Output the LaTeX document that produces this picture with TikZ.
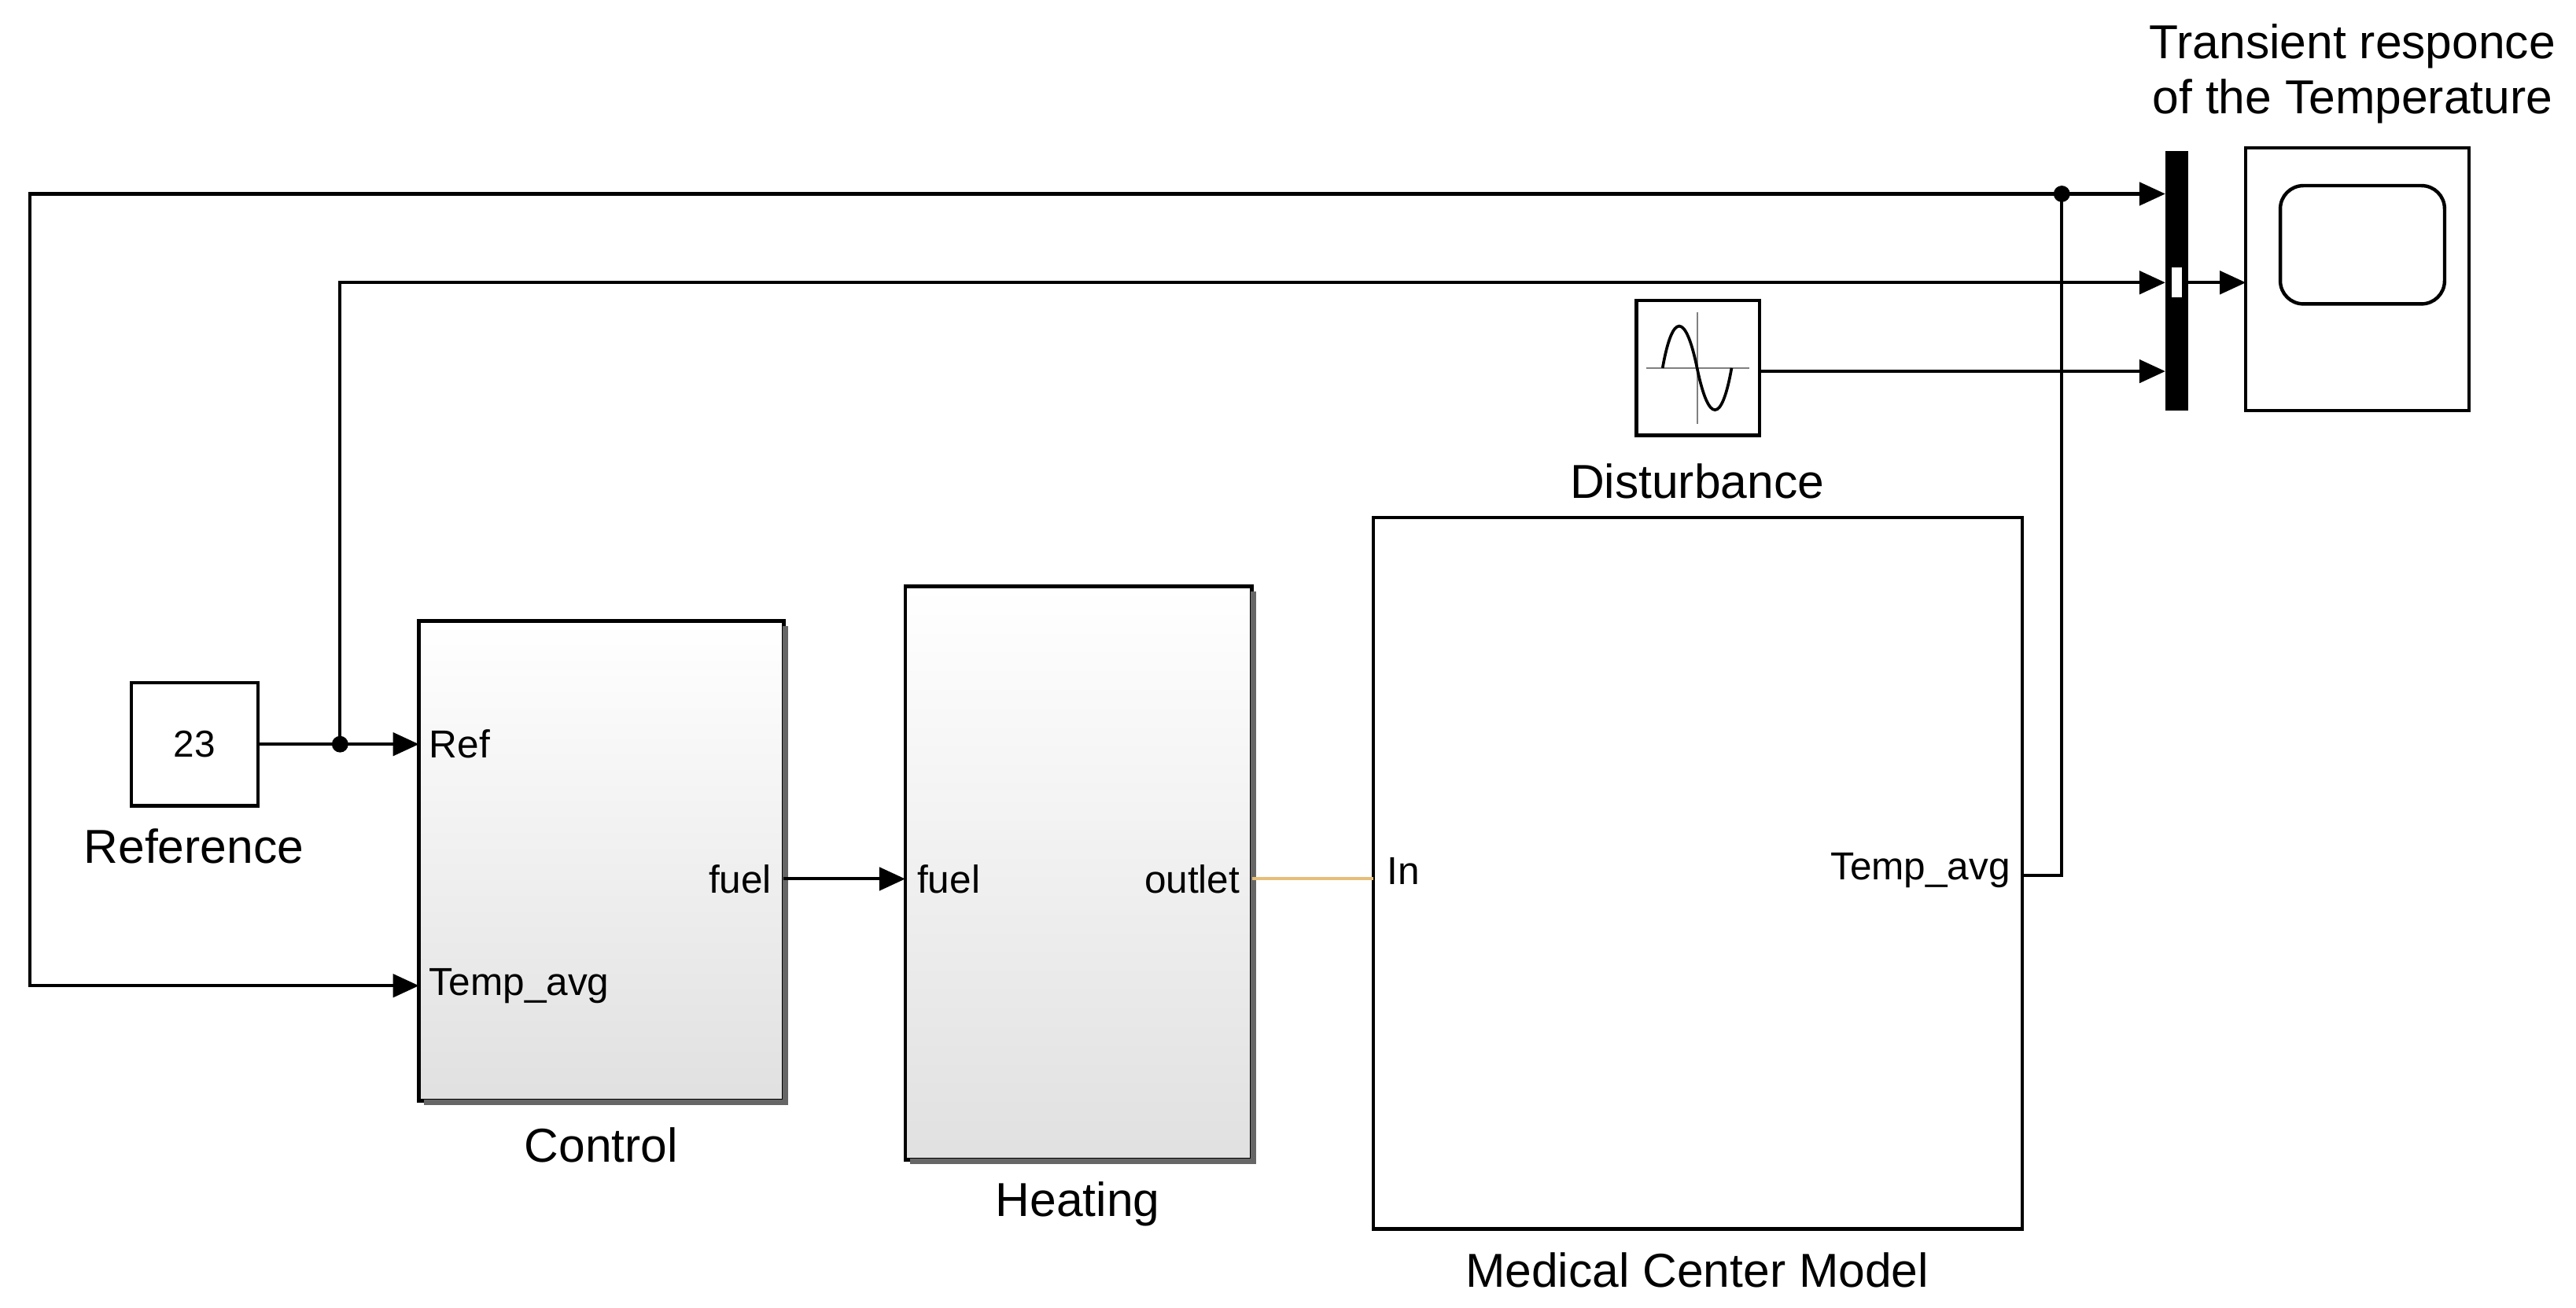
\documentclass[tikz,border=0pt]{standalone}
\usepackage{fontspec}
\setmainfont{Liberation Sans}
\usetikzlibrary{arrows.meta}
\begin{document}
\begin{tikzpicture}[x=0.02cm,y=-0.02cm,
  blk/.style={draw,line width=1.2pt,inner sep=0},
  wire/.style={line width=1.1pt},
  arr/.style={wire,-{Triangle[length=9pt,width=8pt]}},
  lab/.style={font=\fontsize{16.5}{19}\selectfont},
  port/.style={font=\fontsize{13.5}{15}\selectfont,inner sep=0}]
\useasboundingbox (0,0) rectangle (1568,796);
% blocks
\node[blk,minimum width=77*0.02cm,minimum height=75*0.02cm] (ref) at (118.5,453) {\fontsize{13}{15}\selectfont 23};
\node[lab] at (118,515) {Reference};
\shade[top color=white,bottom color=black!12] (255,378) rectangle (477,670);
\draw[line width=1.2pt] (255,378) rectangle (477,670);
\draw[line width=2pt,black!60] (258,671) -- (478,671) -- (478,381);
\node[lab] at (366,697) {Control};
\shade[top color=white,bottom color=black!12] (551,357) rectangle (762,706);
\draw[line width=1.2pt] (551,357) rectangle (762,706);
\draw[line width=2pt,black!60] (554,707) -- (763,707) -- (763,360);
\node[lab] at (656,733) {Heating};
\draw[line width=1.2pt] (836,315) rectangle (1231,748);
\node[lab] at (1033,773) {Medical Center Model};
\draw[line width=1.2pt] (996,183) rectangle (1071,265);
\draw[black!50,line width=0.5pt] (1002,224) -- (1065,224) (1033,190) -- (1033,258);
\draw[line width=1pt] (1012,224) .. controls (1018,190) and (1026,190) .. (1033,224) .. controls (1040,258) and (1048,258) .. (1054,224);
\node[lab] at (1033,293) {Disturbance};
\fill (1318,92) rectangle (1332,250);
\fill[white] (1322,163) rectangle (1328,181);
\draw[line width=1.2pt] (1367,90) rectangle (1503,250);
\draw[line width=1.2pt,rounded corners=8pt] (1388,113) rectangle (1488,185);
\node[lab,align=center] at (1432,45) {Transient responce\\of the Temperature};
% ports
\node[port,anchor=west] at (261,453) {Ref};
\node[port,anchor=west] at (261,600) {Temp\_avg};
\node[port,anchor=east] at (470,535) {fuel};
\node[port,anchor=west] at (558,535) {fuel};
\node[port,anchor=east] at (755,535) {outlet};
\node[port,anchor=west] at (844,530) {In};
\node[port,anchor=east] at (1224,530) {Temp\_avg};
% named points
\coordinate (refin) at (255,453);
\coordinate (tin) at (255,600);
\coordinate (fo) at (477,535);
\coordinate (fi) at (551,535);
\coordinate (oo) at (762,535);
\coordinate (ii) at (836,535);
\coordinate (mo) at (1231,533);
\coordinate (m1) at (1318,118);
\coordinate (m2) at (1318,172);
\coordinate (m3) at (1318,226);
\coordinate (mx) at (1332,172);
\coordinate (sc) at (1367,172);
\coordinate (j1) at (1255,118);
\coordinate (j2) at (207,453);
\coordinate (dz) at (1071,226);
% wires
\draw[arr] (ref.east) -- (refin);
\draw[arr] (j2) -- (207,172) -- (m2);
\fill (j2) circle (5);
\draw[wire] (mo) -- (1255,533) -- (j1);
\draw[arr] (j1) -- (m1);
\draw[arr] (j1) -- (18,118) -- (18,600) -- (tin);
\fill (j1) circle (5);
\draw[arr] (dz) -- (m3);
\draw[arr] (mx) -- (sc);
\draw[arr] (fo) -- (fi);
\draw[line width=1.1pt,color={rgb,255:red,230;green,190;blue,120}] (oo) -- (ii);
\end{tikzpicture}
\end{document}
